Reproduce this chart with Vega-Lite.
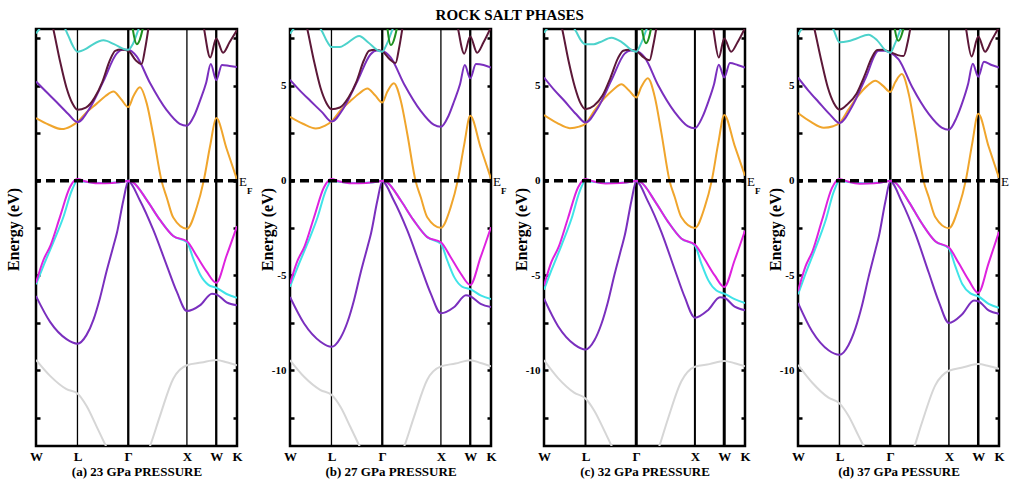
{
"$schema": "https://vega.github.io/schema/vega-lite/v6.json",
"padding": {"left": 3, "top": 8, "right": 0, "bottom": 0},
"title": {"text": "ROCK SALT PHASES", "font": "Liberation Serif", "fontSize": 15, "fontWeight": "bold", "anchor": "middle", "offset": 3, "color": "black"},
"spacing": 53,
"bounds": "flush",
"datasets": {
"a": [
{"band":"1g","k":0,"e":-9.46},{"band":"1g","k":0.24,"e":-10.3},{"band":"1g","k":0.52,"e":-11.0},{"band":"1g","k":0.707,"e":-11.23},{"band":"1g","k":0.86,"e":-11.88},{"band":"1g","k":1.03,"e":-12.95},{"band":"1g","k":1.2,"e":-14.05},{"band":"1g","k":1.4,"e":-15.25},{"band":"1g","k":1.573,"e":-15.65},{"band":"1g","k":1.75,"e":-15.25},{"band":"1g","k":1.95,"e":-13.95},{"band":"1g","k":2.11,"e":-12.45},{"band":"1g","k":2.34,"e":-10.45},{"band":"1g","k":2.573,"e":-9.74},{"band":"1g","k":2.82,"e":-9.6},{"band":"1g","k":3.073,"e":-9.46},{"band":"1g","k":3.25,"e":-9.58},{"band":"1g","k":3.427,"e":-9.74},
{"band":"2p","k":0,"e":-6.09},{"band":"2p","k":0.24,"e":-7.45},{"band":"2p","k":0.52,"e":-8.36},{"band":"2p","k":0.707,"e":-8.6},{"band":"2p","k":0.86,"e":-8.15},{"band":"2p","k":0.98,"e":-7.33},{"band":"2p","k":1.09,"e":-6.2},{"band":"2p","k":1.2,"e":-4.82},{"band":"2p","k":1.32,"e":-3.45},{"band":"2p","k":1.38,"e":-2.75},{"band":"2p","k":1.49,"e":-1.03},{"band":"2p","k":1.573,"e":-0.05},{"band":"2p","k":1.77,"e":-1.03},{"band":"2p","k":2.0,"e":-2.6},{"band":"2p","k":2.23,"e":-4.48},{"band":"2p","k":2.4,"e":-5.86},{"band":"2p","k":2.573,"e":-6.88},{"band":"2p","k":2.8,"e":-6.57},{"band":"2p","k":3.0,"e":-5.97},{"band":"2p","k":3.073,"e":-6.0},{"band":"2p","k":3.25,"e":-6.42},{"band":"2p","k":3.427,"e":-6.58},
{"band":"3c","k":0,"e":-5.47},{"band":"3c","k":0.13,"e":-4.47},{"band":"3c","k":0.3,"e":-3.22},{"band":"3c","k":0.47,"e":-1.89},{"band":"3c","k":0.61,"e":-0.52},{"band":"3c","k":0.707,"e":0},{"band":"3c","k":0.8,"e":-0.05},{"band":"3c","k":1.1,"e":-0.12},{"band":"3c","k":1.4,"e":-0.1},{"band":"3c","k":1.573,"e":0},{"band":"3c","k":1.66,"e":-0.1},{"band":"3c","k":1.89,"e":-1.03},{"band":"3c","k":2.11,"e":-2.06},{"band":"3c","k":2.34,"e":-2.92},{"band":"3c","k":2.573,"e":-3.25},{"band":"3c","k":2.68,"e":-4.1},{"band":"3c","k":2.8,"e":-4.97},{"band":"3c","k":2.94,"e":-5.5},{"band":"3c","k":3.073,"e":-5.65},{"band":"3c","k":3.25,"e":-5.98},{"band":"3c","k":3.427,"e":-6.18},
{"band":"4m","k":0,"e":-5.39},{"band":"4m","k":0.125,"e":-4.2},{"band":"4m","k":0.25,"e":-3.4},{"band":"4m","k":0.41,"e":-1.9},{"band":"4m","k":0.58,"e":-0.34},{"band":"4m","k":0.707,"e":0.08},{"band":"4m","k":0.85,"e":-0.05},{"band":"4m","k":1.05,"e":-0.14},{"band":"4m","k":1.3,"e":-0.12},{"band":"4m","k":1.5,"e":-0.05},{"band":"4m","k":1.573,"e":0},{"band":"4m","k":1.66,"e":-0.1},{"band":"4m","k":1.89,"e":-1.03},{"band":"4m","k":2.11,"e":-2.06},{"band":"4m","k":2.34,"e":-2.92},{"band":"4m","k":2.573,"e":-3.2},{"band":"4m","k":2.74,"e":-3.98},{"band":"4m","k":2.91,"e":-4.8},{"band":"4m","k":3.073,"e":-5.39},{"band":"4m","k":3.25,"e":-3.95},{"band":"4m","k":3.427,"e":-2.4},
{"band":"5o","k":0,"e":3.3},{"band":"5o","k":0.22,"e":2.95},{"band":"5o","k":0.44,"e":2.72},{"band":"5o","k":0.6,"e":2.88},{"band":"5o","k":0.707,"e":3.1},{"band":"5o","k":0.86,"e":3.6},{"band":"5o","k":1.03,"e":4.05},{"band":"5o","k":1.18,"e":4.45},{"band":"5o","k":1.32,"e":4.7},{"band":"5o","k":1.45,"e":4.3},{"band":"5o","k":1.573,"e":3.88},{"band":"5o","k":1.66,"e":4.45},{"band":"5o","k":1.77,"e":4.93},{"band":"5o","k":1.89,"e":4.05},{"band":"5o","k":2.0,"e":2.38},{"band":"5o","k":2.14,"e":0},{"band":"5o","k":2.23,"e":-0.9},{"band":"5o","k":2.34,"e":-1.95},{"band":"5o","k":2.573,"e":-2.54},{"band":"5o","k":2.74,"e":-1.42},{"band":"5o","k":2.86,"e":0},{"band":"5o","k":2.97,"e":1.85},{"band":"5o","k":3.073,"e":3.3},{"band":"5o","k":3.25,"e":1.68},{"band":"5o","k":3.427,"e":0.05},
{"band":"6u","k":0,"e":5.23},{"band":"6u","k":0.17,"e":4.7},{"band":"6u","k":0.35,"e":4.15},{"band":"6u","k":0.55,"e":3.52},{"band":"6u","k":0.707,"e":3.09},{"band":"6u","k":0.92,"e":3.84},{"band":"6u","k":1.15,"e":5.25},{"band":"6u","k":1.375,"e":6.7},{"band":"6u","k":1.48,"e":6.9},{"band":"6u","k":1.573,"e":6.9},{"band":"6u","k":1.716,"e":6.55},{"band":"6u","k":1.944,"e":5.15},{"band":"6u","k":2.228,"e":3.72},{"band":"6u","k":2.45,"e":3.0},{"band":"6u","k":2.573,"e":2.9},{"band":"6u","k":2.7,"e":3.45},{"band":"6u","k":2.8,"e":4.25},{"band":"6u","k":2.9,"e":5.15},{"band":"6u","k":2.98,"e":6.15},{"band":"6u","k":3.073,"e":5.3},{"band":"6u","k":3.17,"e":6.1},{"band":"6u","k":3.3,"e":6.05},{"band":"6u","k":3.427,"e":6.0},
{"band":"7r","k":0.12,"e":10.2},{"band":"7r","k":0.295,"e":8.0},{"band":"7r","k":0.41,"e":6.3},{"band":"7r","k":0.52,"e":4.9},{"band":"7r","k":0.62,"e":4.08},{"band":"7r","k":0.707,"e":3.74},{"band":"7r","k":0.85,"e":3.85},{"band":"7r","k":1.0,"e":4.38},{"band":"7r","k":1.13,"e":5.2},{"band":"7r","k":1.26,"e":6.35},{"band":"7r","k":1.35,"e":6.85},{"band":"7r","k":1.45,"e":6.92},{"band":"7r","k":1.573,"e":6.85},{"band":"7r","k":1.7,"e":6.35},{"band":"7r","k":1.8,"e":6.15},{"band":"7r","k":1.86,"e":6.95},{"band":"7r","k":1.93,"e":8.3},{"band":"7r","k":2.0,"e":9.6},
{"band":"7s","k":2.75,"e":10.0},{"band":"7s","k":2.86,"e":8.1},{"band":"7s","k":2.97,"e":6.5},{"band":"7s","k":3.073,"e":7.5},{"band":"7s","k":3.19,"e":6.75},{"band":"7s","k":3.3,"e":7.3},{"band":"7s","k":3.427,"e":7.95},
{"band":"8t","k":0,"e":7.77},{"band":"8t","k":0.07,"e":8.05},{"band":"8t","k":0.2,"e":8.6},{"band":"8t","k":0.4,"e":8.5},{"band":"8t","k":0.55,"e":7.65},{"band":"8t","k":0.63,"e":7.1},{"band":"8t","k":0.707,"e":6.8},{"band":"8t","k":0.85,"e":6.95},{"band":"8t","k":0.95,"e":7.15},{"band":"8t","k":1.15,"e":7.4},{"band":"8t","k":1.33,"e":7.2},{"band":"8t","k":1.52,"e":6.92},{"band":"8t","k":1.573,"e":6.9},{"band":"8t","k":1.65,"e":7.2},{"band":"8t","k":1.75,"e":8.0},{"band":"8t","k":1.85,"e":8.8},
{"band":"9n","k":1.62,"e":8.6},{"band":"9n","k":1.72,"e":7.2},{"band":"9n","k":1.86,"e":8.6}
],
"b": [
{"band":"1g","k":0,"e":-9.47},{"band":"1g","k":0.24,"e":-10.35},{"band":"1g","k":0.52,"e":-11.05},{"band":"1g","k":0.707,"e":-11.3},{"band":"1g","k":0.86,"e":-11.93},{"band":"1g","k":1.03,"e":-13.0},{"band":"1g","k":1.2,"e":-14.1},{"band":"1g","k":1.4,"e":-15.3},{"band":"1g","k":1.573,"e":-15.7},{"band":"1g","k":1.75,"e":-15.3},{"band":"1g","k":1.95,"e":-14.0},{"band":"1g","k":2.11,"e":-12.5},{"band":"1g","k":2.34,"e":-10.5},{"band":"1g","k":2.573,"e":-9.8},{"band":"1g","k":2.82,"e":-9.65},{"band":"1g","k":3.073,"e":-9.47},{"band":"1g","k":3.25,"e":-9.62},{"band":"1g","k":3.427,"e":-9.8},
{"band":"2p","k":0,"e":-6.14},{"band":"2p","k":0.24,"e":-7.54},{"band":"2p","k":0.52,"e":-8.5},{"band":"2p","k":0.707,"e":-8.77},{"band":"2p","k":0.86,"e":-8.3},{"band":"2p","k":0.98,"e":-7.46},{"band":"2p","k":1.09,"e":-6.32},{"band":"2p","k":1.2,"e":-4.91},{"band":"2p","k":1.32,"e":-3.51},{"band":"2p","k":1.38,"e":-2.8},{"band":"2p","k":1.49,"e":-1.05},{"band":"2p","k":1.573,"e":-0.05},{"band":"2p","k":1.77,"e":-1.05},{"band":"2p","k":2.0,"e":-2.63},{"band":"2p","k":2.23,"e":-4.56},{"band":"2p","k":2.4,"e":-5.96},{"band":"2p","k":2.573,"e":-7.0},{"band":"2p","k":2.8,"e":-6.67},{"band":"2p","k":3.0,"e":-6.05},{"band":"2p","k":3.073,"e":-6.1},{"band":"2p","k":3.25,"e":-6.5},{"band":"2p","k":3.427,"e":-6.67},
{"band":"3c","k":0,"e":-5.6},{"band":"3c","k":0.13,"e":-4.56},{"band":"3c","k":0.3,"e":-3.3},{"band":"3c","k":0.47,"e":-1.93},{"band":"3c","k":0.61,"e":-0.53},{"band":"3c","k":0.707,"e":0},{"band":"3c","k":0.8,"e":-0.05},{"band":"3c","k":1.1,"e":-0.12},{"band":"3c","k":1.4,"e":-0.1},{"band":"3c","k":1.573,"e":0},{"band":"3c","k":1.66,"e":-0.1},{"band":"3c","k":1.89,"e":-1.05},{"band":"3c","k":2.11,"e":-2.1},{"band":"3c","k":2.34,"e":-2.98},{"band":"3c","k":2.573,"e":-3.33},{"band":"3c","k":2.68,"e":-4.2},{"band":"3c","k":2.8,"e":-5.09},{"band":"3c","k":2.94,"e":-5.6},{"band":"3c","k":3.073,"e":-5.72},{"band":"3c","k":3.25,"e":-6.05},{"band":"3c","k":3.427,"e":-6.25},
{"band":"4m","k":0,"e":-5.44},{"band":"4m","k":0.125,"e":-4.25},{"band":"4m","k":0.25,"e":-3.45},{"band":"4m","k":0.41,"e":-1.93},{"band":"4m","k":0.58,"e":-0.35},{"band":"4m","k":0.707,"e":0.08},{"band":"4m","k":0.85,"e":-0.05},{"band":"4m","k":1.05,"e":-0.14},{"band":"4m","k":1.3,"e":-0.12},{"band":"4m","k":1.5,"e":-0.05},{"band":"4m","k":1.573,"e":0},{"band":"4m","k":1.66,"e":-0.1},{"band":"4m","k":1.89,"e":-1.05},{"band":"4m","k":2.11,"e":-2.1},{"band":"4m","k":2.34,"e":-2.98},{"band":"4m","k":2.573,"e":-3.25},{"band":"4m","k":2.74,"e":-4.04},{"band":"4m","k":2.91,"e":-4.9},{"band":"4m","k":3.073,"e":-5.5},{"band":"4m","k":3.25,"e":-4.04},{"band":"4m","k":3.427,"e":-2.46},
{"band":"5o","k":0,"e":3.37},{"band":"5o","k":0.22,"e":3.0},{"band":"5o","k":0.44,"e":2.75},{"band":"5o","k":0.6,"e":2.9},{"band":"5o","k":0.707,"e":3.12},{"band":"5o","k":0.86,"e":3.7},{"band":"5o","k":1.03,"e":4.2},{"band":"5o","k":1.18,"e":4.6},{"band":"5o","k":1.32,"e":4.86},{"band":"5o","k":1.45,"e":4.5},{"band":"5o","k":1.573,"e":4.12},{"band":"5o","k":1.66,"e":4.7},{"band":"5o","k":1.77,"e":5.14},{"band":"5o","k":1.89,"e":4.2},{"band":"5o","k":2.0,"e":2.46},{"band":"5o","k":2.14,"e":0},{"band":"5o","k":2.23,"e":-0.88},{"band":"5o","k":2.34,"e":-1.93},{"band":"5o","k":2.573,"e":-2.49},{"band":"5o","k":2.74,"e":-1.4},{"band":"5o","k":2.86,"e":0},{"band":"5o","k":2.97,"e":1.9},{"band":"5o","k":3.073,"e":3.42},{"band":"5o","k":3.25,"e":1.75},{"band":"5o","k":3.427,"e":0.1},
{"band":"6u","k":0,"e":5.32},{"band":"6u","k":0.17,"e":4.75},{"band":"6u","k":0.35,"e":4.2},{"band":"6u","k":0.55,"e":3.6},{"band":"6u","k":0.707,"e":3.12},{"band":"6u","k":0.92,"e":3.86},{"band":"6u","k":1.15,"e":5.26},{"band":"6u","k":1.375,"e":6.67},{"band":"6u","k":1.48,"e":6.86},{"band":"6u","k":1.573,"e":6.84},{"band":"6u","k":1.716,"e":6.5},{"band":"6u","k":1.944,"e":5.1},{"band":"6u","k":2.228,"e":3.68},{"band":"6u","k":2.45,"e":2.95},{"band":"6u","k":2.573,"e":2.84},{"band":"6u","k":2.7,"e":3.4},{"band":"6u","k":2.8,"e":4.2},{"band":"6u","k":2.9,"e":5.1},{"band":"6u","k":2.98,"e":6.1},{"band":"6u","k":3.073,"e":5.4},{"band":"6u","k":3.17,"e":6.15},{"band":"6u","k":3.3,"e":6.1},{"band":"6u","k":3.427,"e":5.96},
{"band":"7r","k":0.12,"e":10.2},{"band":"7r","k":0.295,"e":8.0},{"band":"7r","k":0.41,"e":6.3},{"band":"7r","k":0.52,"e":4.9},{"band":"7r","k":0.62,"e":4.1},{"band":"7r","k":0.707,"e":3.77},{"band":"7r","k":0.85,"e":3.86},{"band":"7r","k":1.0,"e":4.4},{"band":"7r","k":1.13,"e":5.2},{"band":"7r","k":1.26,"e":6.35},{"band":"7r","k":1.35,"e":6.85},{"band":"7r","k":1.45,"e":6.9},{"band":"7r","k":1.573,"e":6.82},{"band":"7r","k":1.7,"e":6.4},{"band":"7r","k":1.8,"e":6.2},{"band":"7r","k":1.86,"e":7.0},{"band":"7r","k":1.93,"e":8.3},{"band":"7r","k":2.0,"e":9.6},
{"band":"7s","k":2.75,"e":10.0},{"band":"7s","k":2.86,"e":8.1},{"band":"7s","k":2.97,"e":6.7},{"band":"7s","k":3.073,"e":7.6},{"band":"7s","k":3.19,"e":6.75},{"band":"7s","k":3.3,"e":7.3},{"band":"7s","k":3.427,"e":8.1},
{"band":"8t","k":0,"e":7.75},{"band":"8t","k":0.07,"e":8.05},{"band":"8t","k":0.2,"e":8.6},{"band":"8t","k":0.4,"e":8.5},{"band":"8t","k":0.55,"e":7.85},{"band":"8t","k":0.63,"e":7.35},{"band":"8t","k":0.707,"e":7.05},{"band":"8t","k":0.85,"e":7.05},{"band":"8t","k":0.95,"e":7.2},{"band":"8t","k":1.18,"e":7.63},{"band":"8t","k":1.33,"e":7.3},{"band":"8t","k":1.52,"e":6.84},{"band":"8t","k":1.573,"e":6.8},{"band":"8t","k":1.65,"e":7.2},{"band":"8t","k":1.75,"e":8.0},{"band":"8t","k":1.85,"e":8.8},
{"band":"9n","k":1.64,"e":8.6},{"band":"9n","k":1.72,"e":7.15},{"band":"9n","k":1.86,"e":8.6}
],
"c": [
{"band":"1g","k":0,"e":-9.47},{"band":"1g","k":0.24,"e":-10.42},{"band":"1g","k":0.52,"e":-11.2},{"band":"1g","k":0.707,"e":-11.49},{"band":"1g","k":0.86,"e":-12.15},{"band":"1g","k":1.03,"e":-13.2},{"band":"1g","k":1.2,"e":-14.3},{"band":"1g","k":1.4,"e":-15.5},{"band":"1g","k":1.573,"e":-15.9},{"band":"1g","k":1.75,"e":-15.5},{"band":"1g","k":1.95,"e":-14.15},{"band":"1g","k":2.11,"e":-12.6},{"band":"1g","k":2.34,"e":-10.6},{"band":"1g","k":2.573,"e":-9.82},{"band":"1g","k":2.82,"e":-9.68},{"band":"1g","k":3.073,"e":-9.51},{"band":"1g","k":3.25,"e":-9.63},{"band":"1g","k":3.427,"e":-9.79},
{"band":"2p","k":0,"e":-6.23},{"band":"2p","k":0.24,"e":-7.68},{"band":"2p","k":0.52,"e":-8.65},{"band":"2p","k":0.707,"e":-8.91},{"band":"2p","k":0.86,"e":-8.42},{"band":"2p","k":0.98,"e":-7.55},{"band":"2p","k":1.09,"e":-6.4},{"band":"2p","k":1.2,"e":-4.98},{"band":"2p","k":1.32,"e":-3.56},{"band":"2p","k":1.38,"e":-2.84},{"band":"2p","k":1.49,"e":-1.07},{"band":"2p","k":1.573,"e":-0.05},{"band":"2p","k":1.77,"e":-1.08},{"band":"2p","k":2.0,"e":-2.7},{"band":"2p","k":2.23,"e":-4.7},{"band":"2p","k":2.4,"e":-6.15},{"band":"2p","k":2.573,"e":-7.23},{"band":"2p","k":2.8,"e":-6.82},{"band":"2p","k":3.0,"e":-6.15},{"band":"2p","k":3.073,"e":-6.18},{"band":"2p","k":3.25,"e":-6.65},{"band":"2p","k":3.427,"e":-6.84},
{"band":"3c","k":0,"e":-5.75},{"band":"3c","k":0.13,"e":-4.7},{"band":"3c","k":0.3,"e":-3.4},{"band":"3c","k":0.47,"e":-2.0},{"band":"3c","k":0.61,"e":-0.55},{"band":"3c","k":0.707,"e":0},{"band":"3c","k":0.8,"e":-0.05},{"band":"3c","k":1.1,"e":-0.13},{"band":"3c","k":1.4,"e":-0.1},{"band":"3c","k":1.573,"e":0},{"band":"3c","k":1.66,"e":-0.1},{"band":"3c","k":1.89,"e":-1.08},{"band":"3c","k":2.11,"e":-2.15},{"band":"3c","k":2.34,"e":-3.05},{"band":"3c","k":2.573,"e":-3.42},{"band":"3c","k":2.68,"e":-4.35},{"band":"3c","k":2.8,"e":-5.25},{"band":"3c","k":2.94,"e":-5.8},{"band":"3c","k":3.073,"e":-5.96},{"band":"3c","k":3.25,"e":-6.25},{"band":"3c","k":3.427,"e":-6.46},
{"band":"4m","k":0,"e":-5.53},{"band":"4m","k":0.125,"e":-4.3},{"band":"4m","k":0.25,"e":-3.5},{"band":"4m","k":0.41,"e":-1.97},{"band":"4m","k":0.58,"e":-0.36},{"band":"4m","k":0.707,"e":0.09},{"band":"4m","k":0.85,"e":-0.05},{"band":"4m","k":1.05,"e":-0.15},{"band":"4m","k":1.3,"e":-0.13},{"band":"4m","k":1.5,"e":-0.05},{"band":"4m","k":1.573,"e":0},{"band":"4m","k":1.66,"e":-0.1},{"band":"4m","k":1.89,"e":-1.08},{"band":"4m","k":2.11,"e":-2.15},{"band":"4m","k":2.34,"e":-3.05},{"band":"4m","k":2.573,"e":-3.37},{"band":"4m","k":2.74,"e":-4.15},{"band":"4m","k":2.91,"e":-5.0},{"band":"4m","k":3.073,"e":-5.61},{"band":"4m","k":3.25,"e":-4.2},{"band":"4m","k":3.427,"e":-2.63},
{"band":"5o","k":0,"e":3.46},{"band":"5o","k":0.22,"e":3.05},{"band":"5o","k":0.44,"e":2.77},{"band":"5o","k":0.6,"e":2.85},{"band":"5o","k":0.707,"e":3.0},{"band":"5o","k":0.86,"e":3.7},{"band":"5o","k":1.03,"e":4.35},{"band":"5o","k":1.18,"e":4.8},{"band":"5o","k":1.32,"e":5.09},{"band":"5o","k":1.45,"e":4.75},{"band":"5o","k":1.573,"e":4.39},{"band":"5o","k":1.66,"e":4.95},{"band":"5o","k":1.77,"e":5.4},{"band":"5o","k":1.89,"e":4.4},{"band":"5o","k":2.0,"e":2.55},{"band":"5o","k":2.14,"e":0},{"band":"5o","k":2.23,"e":-0.88},{"band":"5o","k":2.34,"e":-1.92},{"band":"5o","k":2.573,"e":-2.5},{"band":"5o","k":2.74,"e":-1.4},{"band":"5o","k":2.86,"e":0},{"band":"5o","k":2.97,"e":1.95},{"band":"5o","k":3.073,"e":3.46},{"band":"5o","k":3.25,"e":1.85},{"band":"5o","k":3.427,"e":0.26},
{"band":"6u","k":0,"e":5.44},{"band":"6u","k":0.17,"e":4.8},{"band":"6u","k":0.35,"e":4.2},{"band":"6u","k":0.55,"e":3.5},{"band":"6u","k":0.707,"e":3.07},{"band":"6u","k":0.92,"e":3.85},{"band":"6u","k":1.15,"e":5.3},{"band":"6u","k":1.375,"e":6.7},{"band":"6u","k":1.48,"e":6.86},{"band":"6u","k":1.573,"e":6.84},{"band":"6u","k":1.716,"e":6.5},{"band":"6u","k":1.944,"e":5.05},{"band":"6u","k":2.228,"e":3.62},{"band":"6u","k":2.45,"e":2.88},{"band":"6u","k":2.573,"e":2.77},{"band":"6u","k":2.7,"e":3.35},{"band":"6u","k":2.8,"e":4.15},{"band":"6u","k":2.9,"e":5.1},{"band":"6u","k":2.98,"e":6.12},{"band":"6u","k":3.073,"e":5.44},{"band":"6u","k":3.17,"e":6.2},{"band":"6u","k":3.3,"e":6.1},{"band":"6u","k":3.427,"e":5.96},
{"band":"7r","k":0.12,"e":10.2},{"band":"7r","k":0.31,"e":8.0},{"band":"7r","k":0.42,"e":6.3},{"band":"7r","k":0.53,"e":4.9},{"band":"7r","k":0.62,"e":4.1},{"band":"7r","k":0.707,"e":3.77},{"band":"7r","k":0.85,"e":3.95},{"band":"7r","k":1.0,"e":4.5},{"band":"7r","k":1.13,"e":5.4},{"band":"7r","k":1.26,"e":6.45},{"band":"7r","k":1.35,"e":6.85},{"band":"7r","k":1.45,"e":6.9},{"band":"7r","k":1.573,"e":6.84},{"band":"7r","k":1.7,"e":6.5},{"band":"7r","k":1.8,"e":6.35},{"band":"7r","k":1.86,"e":7.1},{"band":"7r","k":1.93,"e":8.3},{"band":"7r","k":2.0,"e":9.6},
{"band":"7s","k":2.75,"e":10.0},{"band":"7s","k":2.88,"e":8.1},{"band":"7s","k":2.98,"e":6.5},{"band":"7s","k":3.073,"e":7.5},{"band":"7s","k":3.19,"e":6.8},{"band":"7s","k":3.3,"e":7.3},{"band":"7s","k":3.427,"e":8.05},
{"band":"8t","k":0,"e":7.8},{"band":"8t","k":0.07,"e":8.1},{"band":"8t","k":0.2,"e":8.6},{"band":"8t","k":0.4,"e":8.5},{"band":"8t","k":0.55,"e":7.85},{"band":"8t","k":0.63,"e":7.4},{"band":"8t","k":0.707,"e":7.19},{"band":"8t","k":0.85,"e":7.2},{"band":"8t","k":0.95,"e":7.3},{"band":"8t","k":1.15,"e":7.54},{"band":"8t","k":1.33,"e":7.3},{"band":"8t","k":1.52,"e":6.85},{"band":"8t","k":1.573,"e":6.8},{"band":"8t","k":1.65,"e":7.2},{"band":"8t","k":1.75,"e":8.0},{"band":"8t","k":1.85,"e":8.8},
{"band":"9n","k":1.64,"e":8.6},{"band":"9n","k":1.74,"e":7.25},{"band":"9n","k":1.86,"e":8.6}
],
"d": [
{"band":"1g","k":0,"e":-9.72},{"band":"1g","k":0.24,"e":-10.65},{"band":"1g","k":0.52,"e":-11.45},{"band":"1g","k":0.707,"e":-11.75},{"band":"1g","k":0.86,"e":-12.4},{"band":"1g","k":1.03,"e":-13.45},{"band":"1g","k":1.2,"e":-14.5},{"band":"1g","k":1.4,"e":-15.7},{"band":"1g","k":1.573,"e":-16.1},{"band":"1g","k":1.75,"e":-15.7},{"band":"1g","k":1.95,"e":-14.35},{"band":"1g","k":2.11,"e":-12.8},{"band":"1g","k":2.34,"e":-10.8},{"band":"1g","k":2.573,"e":-10.03},{"band":"1g","k":2.82,"e":-9.85},{"band":"1g","k":3.073,"e":-9.68},{"band":"1g","k":3.25,"e":-9.78},{"band":"1g","k":3.427,"e":-9.93},
{"band":"2p","k":0,"e":-6.45},{"band":"2p","k":0.24,"e":-7.95},{"band":"2p","k":0.52,"e":-8.95},{"band":"2p","k":0.707,"e":-9.19},{"band":"2p","k":0.86,"e":-8.68},{"band":"2p","k":0.98,"e":-7.78},{"band":"2p","k":1.09,"e":-6.6},{"band":"2p","k":1.2,"e":-5.13},{"band":"2p","k":1.32,"e":-3.66},{"band":"2p","k":1.38,"e":-2.92},{"band":"2p","k":1.49,"e":-1.1},{"band":"2p","k":1.573,"e":-0.05},{"band":"2p","k":1.77,"e":-1.12},{"band":"2p","k":2.0,"e":-2.8},{"band":"2p","k":2.23,"e":-4.86},{"band":"2p","k":2.4,"e":-6.38},{"band":"2p","k":2.573,"e":-7.51},{"band":"2p","k":2.8,"e":-7.05},{"band":"2p","k":3.0,"e":-6.33},{"band":"2p","k":3.073,"e":-6.36},{"band":"2p","k":3.25,"e":-6.85},{"band":"2p","k":3.427,"e":-7.03},
{"band":"3c","k":0,"e":-6.0},{"band":"3c","k":0.13,"e":-4.9},{"band":"3c","k":0.3,"e":-3.55},{"band":"3c","k":0.47,"e":-2.1},{"band":"3c","k":0.61,"e":-0.58},{"band":"3c","k":0.707,"e":0},{"band":"3c","k":0.8,"e":-0.05},{"band":"3c","k":1.1,"e":-0.14},{"band":"3c","k":1.4,"e":-0.1},{"band":"3c","k":1.573,"e":0},{"band":"3c","k":1.66,"e":-0.11},{"band":"3c","k":1.89,"e":-1.12},{"band":"3c","k":2.11,"e":-2.25},{"band":"3c","k":2.34,"e":-3.2},{"band":"3c","k":2.573,"e":-3.58},{"band":"3c","k":2.68,"e":-4.5},{"band":"3c","k":2.8,"e":-5.45},{"band":"3c","k":2.94,"e":-5.95},{"band":"3c","k":3.073,"e":-6.1},{"band":"3c","k":3.25,"e":-6.5},{"band":"3c","k":3.427,"e":-6.71},
{"band":"4m","k":0,"e":-5.83},{"band":"4m","k":0.125,"e":-4.55},{"band":"4m","k":0.25,"e":-3.7},{"band":"4m","k":0.41,"e":-2.08},{"band":"4m","k":0.58,"e":-0.38},{"band":"4m","k":0.707,"e":0.09},{"band":"4m","k":0.85,"e":-0.05},{"band":"4m","k":1.05,"e":-0.16},{"band":"4m","k":1.3,"e":-0.14},{"band":"4m","k":1.5,"e":-0.05},{"band":"4m","k":1.573,"e":0},{"band":"4m","k":1.66,"e":-0.11},{"band":"4m","k":1.89,"e":-1.12},{"band":"4m","k":2.11,"e":-2.25},{"band":"4m","k":2.34,"e":-3.2},{"band":"4m","k":2.573,"e":-3.53},{"band":"4m","k":2.74,"e":-4.35},{"band":"4m","k":2.91,"e":-5.25},{"band":"4m","k":3.073,"e":-5.92},{"band":"4m","k":3.25,"e":-4.35},{"band":"4m","k":3.427,"e":-2.7},
{"band":"5o","k":0,"e":3.57},{"band":"5o","k":0.22,"e":3.1},{"band":"5o","k":0.44,"e":2.79},{"band":"5o","k":0.6,"e":2.87},{"band":"5o","k":0.707,"e":3.04},{"band":"5o","k":0.86,"e":3.75},{"band":"5o","k":1.03,"e":4.5},{"band":"5o","k":1.18,"e":5.0},{"band":"5o","k":1.32,"e":5.27},{"band":"5o","k":1.45,"e":5.0},{"band":"5o","k":1.573,"e":4.68},{"band":"5o","k":1.66,"e":5.2},{"band":"5o","k":1.77,"e":5.62},{"band":"5o","k":1.89,"e":4.55},{"band":"5o","k":2.0,"e":2.65},{"band":"5o","k":2.14,"e":0},{"band":"5o","k":2.23,"e":-0.88},{"band":"5o","k":2.34,"e":-1.92},{"band":"5o","k":2.573,"e":-2.51},{"band":"5o","k":2.74,"e":-1.4},{"band":"5o","k":2.86,"e":0},{"band":"5o","k":2.97,"e":1.95},{"band":"5o","k":3.073,"e":3.53},{"band":"5o","k":3.25,"e":1.8},{"band":"5o","k":3.427,"e":0.14},
{"band":"6u","k":0,"e":5.44},{"band":"6u","k":0.17,"e":4.78},{"band":"6u","k":0.35,"e":4.15},{"band":"6u","k":0.55,"e":3.47},{"band":"6u","k":0.707,"e":3.04},{"band":"6u","k":0.92,"e":3.9},{"band":"6u","k":1.15,"e":5.4},{"band":"6u","k":1.375,"e":6.85},{"band":"6u","k":1.48,"e":6.85},{"band":"6u","k":1.573,"e":6.75},{"band":"6u","k":1.716,"e":6.4},{"band":"6u","k":1.944,"e":4.95},{"band":"6u","k":2.228,"e":3.52},{"band":"6u","k":2.45,"e":2.8},{"band":"6u","k":2.573,"e":2.69},{"band":"6u","k":2.7,"e":3.3},{"band":"6u","k":2.8,"e":4.1},{"band":"6u","k":2.9,"e":5.1},{"band":"6u","k":2.98,"e":6.17},{"band":"6u","k":3.073,"e":5.48},{"band":"6u","k":3.17,"e":6.27},{"band":"6u","k":3.3,"e":6.1},{"band":"6u","k":3.427,"e":5.97},
{"band":"7r","k":0.1,"e":10.2},{"band":"7r","k":0.28,"e":8.0},{"band":"7r","k":0.4,"e":6.3},{"band":"7r","k":0.51,"e":4.9},{"band":"7r","k":0.61,"e":4.1},{"band":"7r","k":0.707,"e":3.75},{"band":"7r","k":0.85,"e":4.05},{"band":"7r","k":1.0,"e":4.6},{"band":"7r","k":1.13,"e":5.5},{"band":"7r","k":1.26,"e":6.5},{"band":"7r","k":1.35,"e":6.89},{"band":"7r","k":1.45,"e":6.9},{"band":"7r","k":1.573,"e":6.78},{"band":"7r","k":1.7,"e":6.62},{"band":"7r","k":1.8,"e":6.57},{"band":"7r","k":1.87,"e":7.3},{"band":"7r","k":1.93,"e":8.3},{"band":"7r","k":2.0,"e":9.6},
{"band":"7s","k":2.75,"e":10.0},{"band":"7s","k":2.86,"e":8.1},{"band":"7s","k":2.96,"e":6.55},{"band":"7s","k":3.073,"e":7.6},{"band":"7s","k":3.19,"e":6.8},{"band":"7s","k":3.3,"e":7.4},{"band":"7s","k":3.427,"e":8.1},
{"band":"8t","k":0,"e":7.7},{"band":"8t","k":0.07,"e":8.05},{"band":"8t","k":0.2,"e":8.6},{"band":"8t","k":0.45,"e":8.6},{"band":"8t","k":0.6,"e":8.0},{"band":"8t","k":0.707,"e":7.3},{"band":"8t","k":0.85,"e":7.35},{"band":"8t","k":1.0,"e":7.5},{"band":"8t","k":1.2,"e":7.7},{"band":"8t","k":1.35,"e":7.4},{"band":"8t","k":1.5,"e":6.85},{"band":"8t","k":1.573,"e":6.75},{"band":"8t","k":1.65,"e":7.2},{"band":"8t","k":1.75,"e":8.0},{"band":"8t","k":1.85,"e":8.8},
{"band":"9n","k":1.62,"e":8.6},{"band":"9n","k":1.71,"e":7.38},{"band":"9n","k":1.84,"e":8.6}
]
},
"hconcat": [
{
"width": 201, "height": 417,
"layer": [
{"layer": [
{"data": {"values": [{"k": 0.707}, {"k": 2.573}]}, "mark": {"type": "rule", "color": "black", "strokeWidth": 1.3}, "encoding": {"x": {"field": "k", "type": "quantitative"}}},
{"data": {"values": [{"k": 1.573}, {"k": 3.073}]}, "mark": {"type": "rule", "color": "black", "strokeWidth": 2.3}, "encoding": {"x": {"field": "k", "type": "quantitative"}}},
{"data": {"name": "a"}, "mark": {"type": "line", "interpolate": "monotone", "strokeWidth": 2, "clip": true},
 "encoding": {
  "x": {"field": "k", "type": "quantitative", "scale": {"domain": [0, 3.427], "nice": false, "zero": false}, "axis": {"title": "(a) 23 GPa PRESSURE", "values": [0, 0.707, 1.573, 2.573, 3.073, 3.427], "labelExpr": "datum.value < 0.3 ? 'W' : datum.value < 1 ? 'L' : datum.value < 2 ? 'Γ' : datum.value < 2.8 ? 'X' : datum.value < 3.2 ? 'W' : 'K'", "ticks": false, "domain": false, "labelFlush": false, "labelOverlap": false, "labelPadding": 4, "titlePadding": 2}},
  "y": {"field": "e", "type": "quantitative", "scale": {"domain": [-14, 8], "nice": false, "zero": false}, "axis": {"title": "Energy (eV)", "values": [-12.5, -10, -7.5, -5, -2.5, 0, 2.5, 5, 7.5], "labels": false, "tickSize": -4, "tickWidth": 2.5, "tickColor": "black", "domain": false, "titleX": -15, "titleY": 200}},
  "color": {"field": "band", "type": "nominal", "scale": {"domain": ["1g","2p","3c","4m","5o","6u","7r","7s","8t","9n"], "range": ["#d6d6d6","#7a2fbe","#3fe3e8","#de22de","#f0a52c","#7a2fbe","#5c1838","#5c1838","#4cd2cb","#1f8f1f"]}, "legend": null}
 }},
{"data": {"values": [{}]}, "mark": {"type": "text", "text": "E", "align": "left", "baseline": "middle", "dx": 2, "dy": 1, "fontSize": 13, "font": "Liberation Serif", "color": "black"}, "encoding": {"x": {"datum": 3.427, "type": "quantitative"}, "y": {"datum": 0, "type": "quantitative"}}},
{"data": {"values": [{}]}, "mark": {"type": "text", "text": "F", "align": "left", "baseline": "middle", "dx": 10, "dy": 10, "fontSize": 9, "fontWeight": "bold", "font": "Liberation Serif", "color": "black"}, "encoding": {"x": {"datum": 3.427, "type": "quantitative"}, "y": {"datum": 0, "type": "quantitative"}}}
]},
{"data": {"values": [{}]}, "mark": {"type": "rule", "color": "black", "strokeWidth": 3.5, "strokeDash": [9, 5]}, "encoding": {"y": {"datum": 0, "type": "quantitative", "scale": {"domain": [-14, 8], "nice": false, "zero": false}, "axis": {"orient": "right", "title": null, "labels": false, "values": [-12.5, -10, -7.5, -5, -2.5, 0, 2.5, 5, 7.5], "tickSize": -4, "tickWidth": 2.5, "tickColor": "black", "domain": false}}}}
],
"resolve": {"scale": {"y": "independent"}}
},
{
"width": 201, "height": 417,
"layer": [
{"layer": [
{"data": {"values": [{"k": 0.707}, {"k": 2.573}]}, "mark": {"type": "rule", "color": "black", "strokeWidth": 1.3}, "encoding": {"x": {"field": "k", "type": "quantitative"}}},
{"data": {"values": [{"k": 1.573}, {"k": 3.073}]}, "mark": {"type": "rule", "color": "black", "strokeWidth": 2.3}, "encoding": {"x": {"field": "k", "type": "quantitative"}}},
{"data": {"name": "b"}, "mark": {"type": "line", "interpolate": "monotone", "strokeWidth": 2, "clip": true},
 "encoding": {
  "x": {"field": "k", "type": "quantitative", "scale": {"domain": [0, 3.427], "nice": false, "zero": false}, "axis": {"title": "(b) 27 GPa PRESSURE", "values": [0, 0.707, 1.573, 2.573, 3.073, 3.427], "labelExpr": "datum.value < 0.3 ? 'W' : datum.value < 1 ? 'L' : datum.value < 2 ? 'Γ' : datum.value < 2.8 ? 'X' : datum.value < 3.2 ? 'W' : 'K'", "ticks": false, "domain": false, "labelFlush": false, "labelOverlap": false, "labelPadding": 4, "titlePadding": 2}},
  "y": {"field": "e", "type": "quantitative", "scale": {"domain": [-14, 8], "nice": false, "zero": false}, "axis": {"title": "Energy (eV)", "values": [-12.5, -10, -7.5, -5, -2.5, 0, 2.5, 5, 7.5], "labelExpr": "datum.value % 5 === 0 ? '' + datum.value : ''", "labelPadding": 8, "tickSize": -4, "tickWidth": 2.5, "tickColor": "black", "domain": false, "titleX": -15, "titleY": 200}},
  "color": {"field": "band", "type": "nominal", "scale": {"domain": ["1g","2p","3c","4m","5o","6u","7r","7s","8t","9n"], "range": ["#d6d6d6","#7a2fbe","#3fe3e8","#de22de","#f0a52c","#7a2fbe","#5c1838","#5c1838","#4cd2cb","#1f8f1f"]}, "legend": null}
 }},
{"data": {"values": [{}]}, "mark": {"type": "text", "text": "E", "align": "left", "baseline": "middle", "dx": 2, "dy": 1, "fontSize": 13, "font": "Liberation Serif", "color": "black"}, "encoding": {"x": {"datum": 3.427, "type": "quantitative"}, "y": {"datum": 0, "type": "quantitative"}}},
{"data": {"values": [{}]}, "mark": {"type": "text", "text": "F", "align": "left", "baseline": "middle", "dx": 10, "dy": 10, "fontSize": 9, "fontWeight": "bold", "font": "Liberation Serif", "color": "black"}, "encoding": {"x": {"datum": 3.427, "type": "quantitative"}, "y": {"datum": 0, "type": "quantitative"}}}
]},
{"data": {"values": [{}]}, "mark": {"type": "rule", "color": "black", "strokeWidth": 3.5, "strokeDash": [9, 5]}, "encoding": {"y": {"datum": 0, "type": "quantitative", "scale": {"domain": [-14, 8], "nice": false, "zero": false}, "axis": {"orient": "right", "title": null, "labels": false, "values": [-12.5, -10, -7.5, -5, -2.5, 0, 2.5, 5, 7.5], "tickSize": -4, "tickWidth": 2.5, "tickColor": "black", "domain": false}}}}
],
"resolve": {"scale": {"y": "independent"}}
},
{
"width": 201, "height": 417,
"layer": [
{"layer": [
{"data": {"values": [{"k": 0.707}, {"k": 2.573}]}, "mark": {"type": "rule", "color": "black", "strokeWidth": 2}, "encoding": {"x": {"field": "k", "type": "quantitative"}}},
{"data": {"values": [{"k": 1.573}, {"k": 3.073}]}, "mark": {"type": "rule", "color": "black", "strokeWidth": 3}, "encoding": {"x": {"field": "k", "type": "quantitative"}}},
{"data": {"name": "c"}, "mark": {"type": "line", "interpolate": "monotone", "strokeWidth": 2, "clip": true},
 "encoding": {
  "x": {"field": "k", "type": "quantitative", "scale": {"domain": [0, 3.427], "nice": false, "zero": false}, "axis": {"title": "(c) 32 GPa PRESSURE", "values": [0, 0.707, 1.573, 2.573, 3.073, 3.427], "labelExpr": "datum.value < 0.3 ? 'W' : datum.value < 1 ? 'L' : datum.value < 2 ? 'Γ' : datum.value < 2.8 ? 'X' : datum.value < 3.2 ? 'W' : 'K'", "ticks": false, "domain": false, "labelFlush": false, "labelOverlap": false, "labelPadding": 4, "titlePadding": 2}},
  "y": {"field": "e", "type": "quantitative", "scale": {"domain": [-14, 8], "nice": false, "zero": false}, "axis": {"title": "Energy (eV)", "values": [-12.5, -10, -7.5, -5, -2.5, 0, 2.5, 5, 7.5], "labelExpr": "datum.value % 5 === 0 ? '' + datum.value : ''", "labelPadding": 8, "tickSize": -4, "tickWidth": 2.5, "tickColor": "black", "domain": false, "titleX": -15, "titleY": 200}},
  "color": {"field": "band", "type": "nominal", "scale": {"domain": ["1g","2p","3c","4m","5o","6u","7r","7s","8t","9n"], "range": ["#d6d6d6","#7a2fbe","#3fe3e8","#de22de","#f0a52c","#7a2fbe","#5c1838","#5c1838","#4cd2cb","#1f8f1f"]}, "legend": null}
 }},
{"data": {"values": [{}]}, "mark": {"type": "text", "text": "E", "align": "left", "baseline": "middle", "dx": 2, "dy": 1, "fontSize": 13, "font": "Liberation Serif", "color": "black"}, "encoding": {"x": {"datum": 3.427, "type": "quantitative"}, "y": {"datum": 0, "type": "quantitative"}}},
{"data": {"values": [{}]}, "mark": {"type": "text", "text": "F", "align": "left", "baseline": "middle", "dx": 10, "dy": 10, "fontSize": 9, "fontWeight": "bold", "font": "Liberation Serif", "color": "black"}, "encoding": {"x": {"datum": 3.427, "type": "quantitative"}, "y": {"datum": 0, "type": "quantitative"}}}
]},
{"data": {"values": [{}]}, "mark": {"type": "rule", "color": "black", "strokeWidth": 3.5, "strokeDash": [9, 5]}, "encoding": {"y": {"datum": 0, "type": "quantitative", "scale": {"domain": [-14, 8], "nice": false, "zero": false}, "axis": {"orient": "right", "title": null, "labels": false, "values": [-12.5, -10, -7.5, -5, -2.5, 0, 2.5, 5, 7.5], "tickSize": -4, "tickWidth": 2.5, "tickColor": "black", "domain": false}}}}
],
"resolve": {"scale": {"y": "independent"}}
},
{
"width": 201, "height": 417,
"layer": [
{"layer": [
{"data": {"values": [{"k": 0.707}, {"k": 2.573}]}, "mark": {"type": "rule", "color": "black", "strokeWidth": 1.5}, "encoding": {"x": {"field": "k", "type": "quantitative"}}},
{"data": {"values": [{"k": 1.573}, {"k": 3.073}]}, "mark": {"type": "rule", "color": "black", "strokeWidth": 2.5}, "encoding": {"x": {"field": "k", "type": "quantitative"}}},
{"data": {"name": "d"}, "mark": {"type": "line", "interpolate": "monotone", "strokeWidth": 2, "clip": true},
 "encoding": {
  "x": {"field": "k", "type": "quantitative", "scale": {"domain": [0, 3.427], "nice": false, "zero": false}, "axis": {"title": "(d) 37 GPa PESSURE", "values": [0, 0.707, 1.573, 2.573, 3.073, 3.427], "labelExpr": "datum.value < 0.3 ? 'W' : datum.value < 1 ? 'L' : datum.value < 2 ? 'Γ' : datum.value < 2.8 ? 'X' : datum.value < 3.2 ? 'W' : 'K'", "ticks": false, "domain": false, "labelFlush": false, "labelOverlap": false, "labelPadding": 4, "titlePadding": 2}},
  "y": {"field": "e", "type": "quantitative", "scale": {"domain": [-14, 8], "nice": false, "zero": false}, "axis": {"title": "Energy (eV)", "values": [-12.5, -10, -7.5, -5, -2.5, 0, 2.5, 5, 7.5], "labelExpr": "datum.value % 5 === 0 ? '' + datum.value : ''", "labelPadding": 8, "tickSize": -4, "tickWidth": 2.5, "tickColor": "black", "domain": false, "titleX": -15, "titleY": 200}},
  "color": {"field": "band", "type": "nominal", "scale": {"domain": ["1g","2p","3c","4m","5o","6u","7r","7s","8t","9n"], "range": ["#d6d6d6","#7a2fbe","#3fe3e8","#de22de","#f0a52c","#7a2fbe","#5c1838","#5c1838","#4cd2cb","#1f8f1f"]}, "legend": null}
 }},
{"data": {"values": [{}]}, "mark": {"type": "text", "text": "E", "align": "left", "baseline": "middle", "dx": 2, "dy": 1, "fontSize": 13, "font": "Liberation Serif", "color": "black"}, "encoding": {"x": {"datum": 3.427, "type": "quantitative"}, "y": {"datum": 0, "type": "quantitative"}}},
{"data": {"values": [{}]}, "mark": {"type": "text", "text": "F", "align": "left", "baseline": "middle", "dx": 10, "dy": 10, "fontSize": 9, "fontWeight": "bold", "font": "Liberation Serif", "color": "black"}, "encoding": {"x": {"datum": 3.427, "type": "quantitative"}, "y": {"datum": 0, "type": "quantitative"}}}
]},
{"data": {"values": [{}]}, "mark": {"type": "rule", "color": "black", "strokeWidth": 3.5, "strokeDash": [9, 5]}, "encoding": {"y": {"datum": 0, "type": "quantitative", "scale": {"domain": [-14, 8], "nice": false, "zero": false}, "axis": {"orient": "right", "title": null, "labels": false, "values": [-12.5, -10, -7.5, -5, -2.5, 0, 2.5, 5, 7.5], "tickSize": -4, "tickWidth": 2.5, "tickColor": "black", "domain": false}}}}
],
"resolve": {"scale": {"y": "independent"}}
}
],
"config": {
"font": "Liberation Serif",
"view": {"stroke": "black", "strokeWidth": 2.5},
"axis": {"labelFont": "Liberation Serif", "titleFont": "Liberation Serif", "labelFontWeight": "bold", "titleFontWeight": "bold", "labelColor": "black", "titleColor": "black", "grid": false},
"axisX": {"labelFontSize": 13, "titleFontSize": 13},
"axisY": {"labelFontSize": 11, "titleFontSize": 16}
}
}
